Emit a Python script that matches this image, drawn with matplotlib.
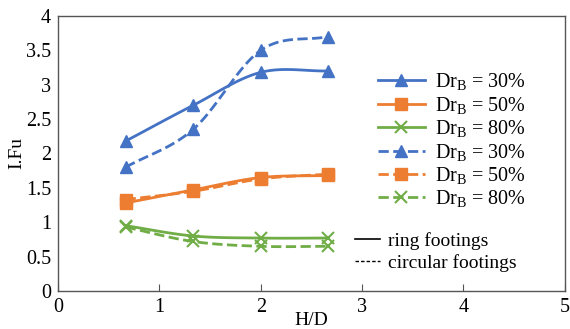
import numpy as np
import matplotlib
matplotlib.use("Agg")
import matplotlib.pyplot as plt
from matplotlib.lines import Line2D

plt.rcParams['font.family'] = ['Liberation Serif']
plt.rcParams['mathtext.fontset'] = 'custom'
plt.rcParams['mathtext.rm'] = 'Liberation Serif'
plt.rcParams['mathtext.it'] = 'Liberation Serif:italic'

hd = [0.667, 1.333, 2.0, 2.667]
ring_30 = [2.18, 2.70, 3.18, 3.20]
ring_50 = [1.28, 1.47, 1.65, 1.68]
ring_80 = [0.95, 0.80, 0.77, 0.77]
circ_30 = [1.80, 2.35, 3.50, 3.70]
circ_50 = [1.33, 1.45, 1.63, 1.70]
circ_80 = [0.93, 0.72, 0.65, 0.65]
labels = ['Dr$_\\mathrm{B}$ = 30%', 'Dr$_\\mathrm{B}$ = 50%', 'Dr$_\\mathrm{B}$ = 80%']

blue = '#4472C4'
orange = '#ED7D31'
green = '#70AD47'


def smooth(x, y, n=30):
    x = np.asarray(x, float)
    y = np.asarray(y, float)
    px = np.concatenate([[2 * x[0] - x[1]], x, [2 * x[-1] - x[-2]]])
    py = np.concatenate([[2 * y[0] - y[1]], y, [2 * y[-1] - y[-2]]])
    xs, ys = [], []
    for i in range(1, len(px) - 2):
        t = np.linspace(0, 1, n)
        p0, p1, p2, p3 = (np.array([px[j], py[j]]) for j in range(i - 1, i + 3))
        m1 = (p2 - p0) / 6
        m2 = (p3 - p1) / 6
        b0, b1, b2, b3 = p1, p1 + m1, p2 - m2, p2
        pts = ((1 - t)[:, None] ** 3 * b0 + 3 * ((1 - t) ** 2 * t)[:, None] * b1
               + 3 * ((1 - t) * t ** 2)[:, None] * b2 + (t ** 3)[:, None] * b3)
        xs.extend(pts[:, 0])
        ys.extend(pts[:, 1])
    return np.array(xs), np.array(ys)


fig = plt.figure(figsize=(5.7, 3.29), dpi=100)
ax = fig.add_axes([0.1018, 0.1155, 0.889, 0.836])

series = [
    (ring_30, blue, '^', '-', 9, labels[0]),
    (ring_50, orange, 's', '-', 9, labels[1]),
    (ring_80, green, 'x', '-', 8, labels[2]),
    (circ_30, blue, '^', '--', 9, labels[0]),
    (circ_50, orange, 's', '--', 9, labels[1]),
    (circ_80, green, 'x', '--', 8, labels[2]),
]
handles = []
for y, c, m, ls, ms, lab in series:
    sx, sy = smooth(hd, y)
    ax.plot(sx, sy, color=c, linestyle=ls, linewidth=2)
    ax.plot(hd, y, linestyle='none', marker=m, color=c, markersize=ms,
            markeredgewidth=1.5 if m == 'x' else 1)
    handles.append(Line2D([], [], color=c, linestyle=ls, linewidth=2, marker=m,
                          markersize=ms, markeredgewidth=1.5 if m == 'x' else 1, label=lab))

ax.set_xlim(0, 5)
ax.set_ylim(0, 4)
ax.set_xticks([0, 1, 2, 3, 4, 5])
ax.set_yticks([0, 0.5, 1, 1.5, 2, 2.5, 3, 3.5, 4])
ax.set_yticklabels(['0', '0.5', '1', '1.5', '2', '2.5', '3', '3.5', '4'])
ax.tick_params(axis='x', direction='in', length=5, labelsize=14.5, pad=5, color='#555555')
ax.tick_params(axis='y', length=0, labelsize=14.5, pad=5)
for s in ax.spines.values():
    s.set_color('#555555')
    s.set_linewidth(1)
ax.set_xlabel('H/D', fontsize=14)
ax.xaxis.set_label_coords(0.5, -0.075)
ax.set_ylabel('I.Fu', fontsize=14)
ax.yaxis.set_label_coords(-0.064, 0.5)

leg = ax.legend(handles=handles, loc='upper left', bbox_to_anchor=(0.612, 0.835),
                frameon=False, fontsize=14.5, handlelength=2.3, labelspacing=0.12,
                handletextpad=0.5, borderpad=0)
ax.add_artist(leg)

h2 = [Line2D([], [], color='black', linestyle='-', linewidth=1.2),
      Line2D([], [], color='black', linestyle=(0, (2.5, 1.5)), linewidth=1.0)]
leg2 = ax.legend(h2, ['ring footings', 'circular footings'], loc='upper left',
                 bbox_to_anchor=(0.567, 0.25), frameon=False, fontsize=14,
                 handlelength=1.3, labelspacing=0.2, handletextpad=0.4, borderpad=0)

fig.savefig('out.png', dpi=100)
